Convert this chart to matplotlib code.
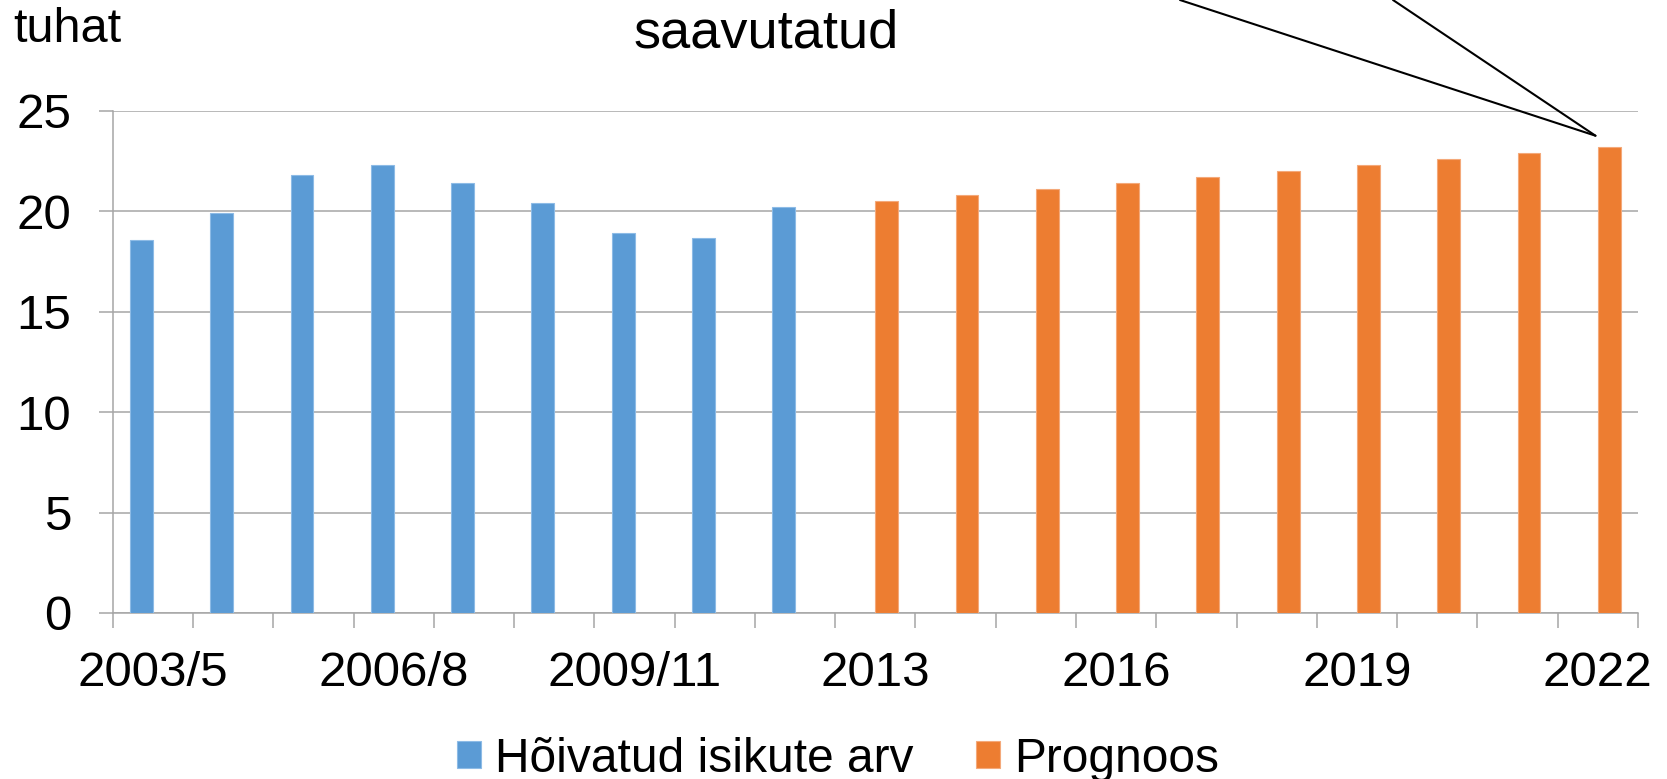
import matplotlib
matplotlib.use("Agg")
import matplotlib.pyplot as plt
import numpy as np

# ---- data ----
categories = ["2003/5", "2004/6", "2005/7", "2006/8", "2007/9", "2008/10",
              "2009/11", "2010/12", "2011/13", "2013", "2014", "2015",
              "2016", "2017", "2018", "2019", "2020", "2021", "2022"]
hoivatud = [18.6, 19.9, 21.8, 22.3, 21.4, 20.4, 18.9, 18.7, 20.2]
prognoos = [20.5, 20.8, 21.1, 21.4, 21.7, 22.0, 22.3, 22.6, 22.9, 23.2]
shown_labels = ["2003/5", "2006/8", "2009/11", "2013", "2016", "2019", "2022"]
yticks = [0, 5, 10, 15, 20, 25]

series_names = ["Hõivatud isikute arv", "Prognoos"]
BLUE = "#5B9BD5"
ORANGE = "#ED7D31"
GRID = "#A6A6A6"

plt.rcParams['font.family'] = ['Liberation Sans', 'DejaVu Sans']
FS = 35.5

fig = plt.figure(figsize=(16.67, 7.79), dpi=100)
ax = fig.add_axes([112.7/1667, 1-613/779, (1638-112.7)/1667, (613-111)/779])

n = len(categories)
x = np.arange(n)
w = 0.284
blue_idx = x[:len(hoivatud)]
orange_idx = x[n-len(prognoos):]
ax.bar(blue_idx - w/2, hoivatud, width=w, color=BLUE, edgecolor="#8DBBE6",
       linewidth=0.8, label=series_names[0], zorder=3)
ax.bar(orange_idx + w/2, prognoos, width=w, color=ORANGE, edgecolor="#F4A97A",
       linewidth=0.8, label=series_names[1], zorder=3)

ax.set_xlim(-0.5, n-0.5)
ax.set_ylim(0, 25)
ax.set_yticks(yticks)
ax.set_yticklabels([str(v) for v in yticks], fontsize=FS)
ax.yaxis.grid(True, color=GRID, linewidth=1.1, zorder=0)
ax.tick_params(axis='y', length=10, width=1.1, color=GRID, pad=20)

label_pos = [categories.index(l) for l in shown_labels]
ax.set_xticks(label_pos)
ax.set_xticklabels(shown_labels, fontsize=FS)
ax.set_xticks(np.arange(-0.5, n, 1.0), minor=True)
ax.tick_params(axis='x', which='major', length=0, pad=27)
ax.tick_params(axis='x', which='minor', length=11, width=1.1, color=GRID)

for s in ['top', 'right']:
    ax.spines[s].set_visible(False)
for s in ['left', 'bottom']:
    ax.spines[s].set_color(GRID)
    ax.spines[s].set_linewidth(1.1)
ax.set_axisbelow(True)

# callout lines pointing at the last forecast bar
for sx in (1180/1667, 1393/1667):
    ax.annotate("", xy=(17.97, 23.77), xycoords='data',
                xytext=(sx, 1.0), textcoords='figure fraction',
                arrowprops=dict(arrowstyle='-', color='black', lw=1.5,
                                shrinkA=0, shrinkB=0),
                annotation_clip=False)

fig.text(13/1667, 1-30/779, "tuhat", fontsize=35, ha='left', va='center')
fig.text(766/1667, 1-33/779, "saavutatud", fontsize=39, ha='center', va='center')

leg = fig.legend(loc='center', bbox_to_anchor=(838/1667, 1-759/779),
                 ncol=2, frameon=False, fontsize=34.5,
                 handlelength=0.5, handleheight=0.5, handletextpad=0.3,
                 columnspacing=1.3, borderaxespad=0, borderpad=0)

fig.savefig("out.png", dpi=100)
